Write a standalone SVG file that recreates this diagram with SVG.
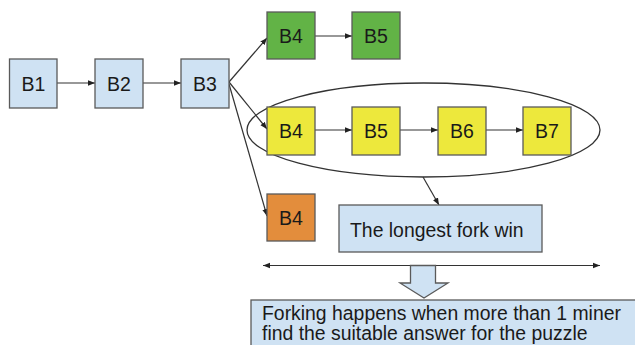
<svg xmlns="http://www.w3.org/2000/svg" width="635" height="345" viewBox="0 0 635 345">
<defs>
<style>
.box{stroke:#5a5a5a;stroke-width:1.3}
.blue{fill:#cfe2f3}
.green{fill:#62b346}
.yellow{fill:#ede83c}
.orange{fill:#e38d3c}
.lbl{font-family:"Liberation Sans",Arial,sans-serif;font-size:19.5px;fill:#1a1a1a;text-anchor:middle}
.txt{font-family:"Liberation Sans",Arial,sans-serif;font-size:19.4px;fill:#1a1a1a}
.ln{stroke:#333;stroke-width:1.2;fill:none}
</style>
<marker id="ah" viewBox="0 0 10 10" refX="10" refY="5" markerWidth="7" markerHeight="7" markerUnits="userSpaceOnUse" orient="auto-start-reverse">
<path d="M0,1 L10,5 L0,9 z" fill="#222"/>
</marker>
</defs>
<g id="connectors">
<line class="ln" x1="57" y1="83" x2="95" y2="83" marker-end="url(#ah)"/>
<line class="ln" x1="143" y1="83" x2="181" y2="83" marker-end="url(#ah)"/>
<line class="ln" x1="229" y1="82" x2="267" y2="38" marker-end="url(#ah)"/>
<line class="ln" x1="229" y1="82" x2="267" y2="129" marker-end="url(#ah)"/>
<line class="ln" x1="229" y1="84" x2="267" y2="216" marker-end="url(#ah)"/>
<line class="ln" x1="315" y1="36" x2="352" y2="36" marker-end="url(#ah)"/>
<line class="ln" x1="315" y1="130" x2="352" y2="130" marker-end="url(#ah)"/>
<line class="ln" x1="400" y1="130" x2="438" y2="130" marker-end="url(#ah)"/>
<line class="ln" x1="486" y1="130" x2="523" y2="130" marker-end="url(#ah)"/>
<line class="ln" x1="423" y1="177" x2="439" y2="205" marker-end="url(#ah)"/>
<line class="ln" x1="263" y1="265.5" x2="600" y2="265.5" marker-start="url(#ah)" marker-end="url(#ah)"/>
</g>
<g id="ellipse">
<ellipse cx="423.5" cy="130" rx="176.5" ry="47" fill="none" stroke="#333" stroke-width="1.3"/>
</g>
<g id="b1"><rect class="box blue" x="9.5" y="59" width="47.5" height="49"/><text class="lbl" x="33.5" y="90.5">B1</text></g>
<g id="b2"><rect class="box blue" x="95" y="59" width="48" height="49"/><text class="lbl" x="119" y="90.5">B2</text></g>
<g id="b3"><rect class="box blue" x="181" y="59" width="48" height="49"/><text class="lbl" x="205" y="90.5">B3</text></g>
<g id="g-b4"><rect class="box green" x="267" y="12" width="48" height="47"/><text class="lbl" x="291" y="42.5">B4</text></g>
<g id="g-b5"><rect class="box green" x="352" y="12" width="48" height="47"/><text class="lbl" x="376" y="42.5">B5</text></g>
<g id="y-b4"><rect class="box yellow" x="267" y="107" width="48" height="48"/><text class="lbl" x="291" y="137.5">B4</text></g>
<g id="y-b5"><rect class="box yellow" x="352" y="107" width="48" height="48"/><text class="lbl" x="376" y="137.5">B5</text></g>
<g id="y-b6"><rect class="box yellow" x="438" y="107" width="48" height="48"/><text class="lbl" x="462" y="137.5">B6</text></g>
<g id="y-b7"><rect class="box yellow" x="523" y="107" width="48" height="48"/><text class="lbl" x="547" y="137.5">B7</text></g>
<g id="o-b4"><rect class="box orange" x="267" y="194" width="48" height="47"/><text class="lbl" x="291" y="224.5">B4</text></g>
<g id="longest"><rect class="box blue" x="339" y="205" width="203" height="47"/><text class="txt" x="350" y="237">The longest fork win</text></g>
<g id="block-arrow"><path class="box blue" d="M410.5,265.5 L435.5,265.5 L435.5,283 L448,283 L424,298 L400,283 L410.5,283 Z"/></g>
<g id="note"><rect class="box blue" x="251" y="300" width="400" height="60"/><text class="txt" x="262" y="320">Forking happens when more than 1 miner</text><text class="txt" x="262" y="340">find the suitable answer for the puzzle</text></g>
</svg>
